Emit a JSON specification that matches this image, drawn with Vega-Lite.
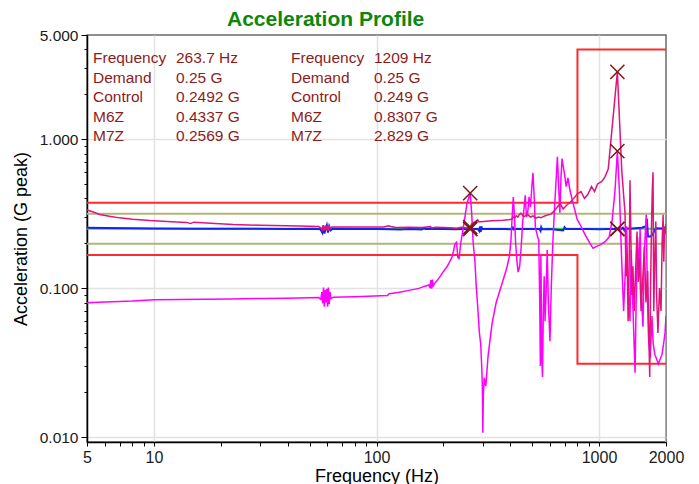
{
  "$schema": "https://vega.github.io/schema/vega-lite/v6.json",
  "width": 579,
  "height": 407,
  "autosize": {"type": "none"},
  "padding": {"left": 87, "top": 35, "right": 33, "bottom": 42},
  "background": "white",
  "config": {
    "font": "Liberation Sans",
    "view": {"stroke": "#6a6a6a", "strokeWidth": 1.5}
  },
  "title": {
    "text": "Acceleration Profile",
    "color": "#0b870b",
    "fontSize": 21,
    "fontWeight": "bold",
    "font": "Liberation Sans",
    "anchor": "start",
    "frame": "group",
    "dx": 140,
    "dy": 28,
    "offset": 9,
    "baseline": "alphabetic"
  },
  "datasets": {
    "limits": [
      {"series": "Abort", "edge": "upper", "freq": 5, "g": 0.374},
      {"series": "Abort", "edge": "upper", "freq": 800, "g": 0.374},
      {"series": "Abort", "edge": "upper", "freq": 800, "g": 4.0},
      {"series": "Abort", "edge": "upper", "freq": 2000, "g": 4.0},
      {"series": "Abort", "edge": "lower", "freq": 5, "g": 0.167},
      {"series": "Abort", "edge": "lower", "freq": 800, "g": 0.167},
      {"series": "Abort", "edge": "lower", "freq": 800, "g": 0.031},
      {"series": "Abort", "edge": "lower", "freq": 2000, "g": 0.031},
      {"series": "Alarm", "edge": "upper", "freq": 5, "g": 0.315},
      {"series": "Alarm", "edge": "upper", "freq": 2000, "g": 0.315},
      {"series": "Alarm", "edge": "lower", "freq": 5, "g": 0.1985},
      {"series": "Alarm", "edge": "lower", "freq": 1955, "g": 0.1985},
      {"series": "Alarm", "edge": "lower", "freq": 1985, "g": 0.232},
      {"series": "Alarm", "edge": "lower", "freq": 2000, "g": 0.232},
      {"series": "Alarm", "edge": "lower", "freq": 2000, "g": 0.00926}
    ],
    "curves": [
      {"series": "Demand", "freq": 5, "g": 0.25},
      {"series": "Demand", "freq": 2000, "g": 0.25},

      {"series": "Control", "freq": 5, "g": 0.254},
      {"series": "Control", "freq": 6, "g": 0.253},
      {"series": "Control", "freq": 8, "g": 0.252},
      {"series": "Control", "freq": 10, "g": 0.251},
      {"series": "Control", "freq": 15, "g": 0.2505},
      {"series": "Control", "freq": 25, "g": 0.25},
      {"series": "Control", "freq": 40, "g": 0.2495},
      {"series": "Control", "freq": 52, "g": 0.25},
      {"series": "Control", "freq": 56, "g": 0.248},
      {"series": "Control", "freq": 57, "g": 0.236},
      {"series": "Control", "freq": 57.5, "g": 0.262},
      {"series": "Control", "freq": 58.3, "g": 0.232},
      {"series": "Control", "freq": 59, "g": 0.25},
      {"series": "Control", "freq": 59.8, "g": 0.264},
      {"series": "Control", "freq": 60.5, "g": 0.236},
      {"series": "Control", "freq": 61.3, "g": 0.26},
      {"series": "Control", "freq": 62.2, "g": 0.244},
      {"series": "Control", "freq": 63.5, "g": 0.25},
      {"series": "Control", "freq": 80, "g": 0.2495},
      {"series": "Control", "freq": 100, "g": 0.2492},
      {"series": "Control", "freq": 115, "g": 0.2485},
      {"series": "Control", "freq": 128, "g": 0.2475},
      {"series": "Control", "freq": 140, "g": 0.2492},
      {"series": "Control", "freq": 160, "g": 0.2478},
      {"series": "Control", "freq": 163, "g": 0.2525},
      {"series": "Control", "freq": 166, "g": 0.2488},
      {"series": "Control", "freq": 200, "g": 0.2495},
      {"series": "Control", "freq": 225, "g": 0.2484},
      {"series": "Control", "freq": 245, "g": 0.2493},
      {"series": "Control", "freq": 263.7, "g": 0.2492},
      {"series": "Control", "freq": 285, "g": 0.2495},
      {"series": "Control", "freq": 290, "g": 0.241},
      {"series": "Control", "freq": 292, "g": 0.259},
      {"series": "Control", "freq": 294, "g": 0.238},
      {"series": "Control", "freq": 296, "g": 0.26},
      {"series": "Control", "freq": 298, "g": 0.2495},
      {"series": "Control", "freq": 340, "g": 0.2492},
      {"series": "Control", "freq": 380, "g": 0.2488},
      {"series": "Control", "freq": 405, "g": 0.2485},
      {"series": "Control", "freq": 410, "g": 0.255},
      {"series": "Control", "freq": 414, "g": 0.2475},
      {"series": "Control", "freq": 420, "g": 0.2495},
      {"series": "Control", "freq": 480, "g": 0.2492},
      {"series": "Control", "freq": 540, "g": 0.249},
      {"series": "Control", "freq": 546, "g": 0.242},
      {"series": "Control", "freq": 550, "g": 0.256},
      {"series": "Control", "freq": 555, "g": 0.2485},
      {"series": "Control", "freq": 600, "g": 0.2495},
      {"series": "Control", "freq": 690, "g": 0.244},
      {"series": "Control", "freq": 700, "g": 0.256},
      {"series": "Control", "freq": 710, "g": 0.249},
      {"series": "Control", "freq": 800, "g": 0.249},
      {"series": "Control", "freq": 900, "g": 0.2493},
      {"series": "Control", "freq": 1000, "g": 0.2485},
      {"series": "Control", "freq": 1100, "g": 0.249},
      {"series": "Control", "freq": 1209, "g": 0.249},
      {"series": "Control", "freq": 1250, "g": 0.248},
      {"series": "Control", "freq": 1280, "g": 0.254},
      {"series": "Control", "freq": 1300, "g": 0.244},
      {"series": "Control", "freq": 1320, "g": 0.252},
      {"series": "Control", "freq": 1380, "g": 0.25},
      {"series": "Control", "freq": 1450, "g": 0.252},
      {"series": "Control", "freq": 1560, "g": 0.254},
      {"series": "Control", "freq": 1600, "g": 0.258},
      {"series": "Control", "freq": 1630, "g": 0.262},
      {"series": "Control", "freq": 1641, "g": 0.292},
      {"series": "Control", "freq": 1650, "g": 0.255},
      {"series": "Control", "freq": 1660, "g": 0.222},
      {"series": "Control", "freq": 1700, "g": 0.222},
      {"series": "Control", "freq": 1740, "g": 0.228},
      {"series": "Control", "freq": 1780, "g": 0.245},
      {"series": "Control", "freq": 1800, "g": 0.252},
      {"series": "Control", "freq": 1900, "g": 0.251},
      {"series": "Control", "freq": 1960, "g": 0.252},
      {"series": "Control", "freq": 2000, "g": 0.25},

      {"series": "M6Z", "freq": 5, "g": 0.0798},
      {"series": "M6Z", "freq": 6, "g": 0.0805},
      {"series": "M6Z", "freq": 7, "g": 0.0812},
      {"series": "M6Z", "freq": 8, "g": 0.0818},
      {"series": "M6Z", "freq": 10, "g": 0.0835},
      {"series": "M6Z", "freq": 13, "g": 0.0838},
      {"series": "M6Z", "freq": 17, "g": 0.0842},
      {"series": "M6Z", "freq": 22, "g": 0.0846},
      {"series": "M6Z", "freq": 30, "g": 0.0852},
      {"series": "M6Z", "freq": 40, "g": 0.0856},
      {"series": "M6Z", "freq": 50, "g": 0.086},
      {"series": "M6Z", "freq": 55, "g": 0.0863},
      {"series": "M6Z", "freq": 56.2, "g": 0.084},
      {"series": "M6Z", "freq": 56.8, "g": 0.094},
      {"series": "M6Z", "freq": 57.3, "g": 0.079},
      {"series": "M6Z", "freq": 57.8, "g": 0.101},
      {"series": "M6Z", "freq": 58.3, "g": 0.075},
      {"series": "M6Z", "freq": 58.8, "g": 0.097},
      {"series": "M6Z", "freq": 59.3, "g": 0.08},
      {"series": "M6Z", "freq": 59.8, "g": 0.099},
      {"series": "M6Z", "freq": 60.3, "g": 0.075},
      {"series": "M6Z", "freq": 60.8, "g": 0.101},
      {"series": "M6Z", "freq": 61.3, "g": 0.078},
      {"series": "M6Z", "freq": 61.8, "g": 0.094},
      {"series": "M6Z", "freq": 62.5, "g": 0.085},
      {"series": "M6Z", "freq": 64, "g": 0.0868},
      {"series": "M6Z", "freq": 70, "g": 0.087},
      {"series": "M6Z", "freq": 80, "g": 0.0875},
      {"series": "M6Z", "freq": 98, "g": 0.0885},
      {"series": "M6Z", "freq": 105, "g": 0.0888},
      {"series": "M6Z", "freq": 112, "g": 0.089},
      {"series": "M6Z", "freq": 114, "g": 0.0915},
      {"series": "M6Z", "freq": 125, "g": 0.0935},
      {"series": "M6Z", "freq": 140, "g": 0.0965},
      {"series": "M6Z", "freq": 155, "g": 0.0995},
      {"series": "M6Z", "freq": 165, "g": 0.103},
      {"series": "M6Z", "freq": 172, "g": 0.105},
      {"series": "M6Z", "freq": 174, "g": 0.1},
      {"series": "M6Z", "freq": 175.5, "g": 0.113},
      {"series": "M6Z", "freq": 177, "g": 0.099},
      {"series": "M6Z", "freq": 178.5, "g": 0.114},
      {"series": "M6Z", "freq": 180, "g": 0.104},
      {"series": "M6Z", "freq": 183, "g": 0.108},
      {"series": "M6Z", "freq": 192, "g": 0.118},
      {"series": "M6Z", "freq": 199, "g": 0.128},
      {"series": "M6Z", "freq": 208, "g": 0.14},
      {"series": "M6Z", "freq": 214, "g": 0.152},
      {"series": "M6Z", "freq": 218, "g": 0.16},
      {"series": "M6Z", "freq": 222, "g": 0.178},
      {"series": "M6Z", "freq": 225, "g": 0.197},
      {"series": "M6Z", "freq": 229, "g": 0.203},
      {"series": "M6Z", "freq": 232, "g": 0.16},
      {"series": "M6Z", "freq": 235, "g": 0.158},
      {"series": "M6Z", "freq": 239, "g": 0.2},
      {"series": "M6Z", "freq": 243, "g": 0.232},
      {"series": "M6Z", "freq": 248, "g": 0.28},
      {"series": "M6Z", "freq": 255, "g": 0.37},
      {"series": "M6Z", "freq": 263.7, "g": 0.4337},
      {"series": "M6Z", "freq": 268, "g": 0.31},
      {"series": "M6Z", "freq": 272, "g": 0.2},
      {"series": "M6Z", "freq": 277, "g": 0.15},
      {"series": "M6Z", "freq": 281, "g": 0.1},
      {"series": "M6Z", "freq": 285, "g": 0.075},
      {"series": "M6Z", "freq": 290, "g": 0.05},
      {"series": "M6Z", "freq": 294, "g": 0.042},
      {"series": "M6Z", "freq": 297, "g": 0.03},
      {"series": "M6Z", "freq": 299, "g": 0.022},
      {"series": "M6Z", "freq": 300.5, "g": 0.0107},
      {"series": "M6Z", "freq": 302, "g": 0.019},
      {"series": "M6Z", "freq": 305, "g": 0.025},
      {"series": "M6Z", "freq": 310, "g": 0.022},
      {"series": "M6Z", "freq": 317, "g": 0.0345},
      {"series": "M6Z", "freq": 325, "g": 0.047},
      {"series": "M6Z", "freq": 331, "g": 0.0584},
      {"series": "M6Z", "freq": 345, "g": 0.08},
      {"series": "M6Z", "freq": 359, "g": 0.0971},
      {"series": "M6Z", "freq": 372, "g": 0.115},
      {"series": "M6Z", "freq": 386, "g": 0.1386},
      {"series": "M6Z", "freq": 396, "g": 0.165},
      {"series": "M6Z", "freq": 402, "g": 0.21},
      {"series": "M6Z", "freq": 407, "g": 0.3},
      {"series": "M6Z", "freq": 412, "g": 0.409},
      {"series": "M6Z", "freq": 417, "g": 0.3},
      {"series": "M6Z", "freq": 422, "g": 0.2},
      {"series": "M6Z", "freq": 428, "g": 0.15},
      {"series": "M6Z", "freq": 433, "g": 0.128},
      {"series": "M6Z", "freq": 440, "g": 0.14},
      {"series": "M6Z", "freq": 447, "g": 0.19},
      {"series": "M6Z", "freq": 454, "g": 0.28},
      {"series": "M6Z", "freq": 460, "g": 0.34},
      {"series": "M6Z", "freq": 466, "g": 0.42},
      {"series": "M6Z", "freq": 472, "g": 0.3},
      {"series": "M6Z", "freq": 478, "g": 0.32},
      {"series": "M6Z", "freq": 485, "g": 0.41},
      {"series": "M6Z", "freq": 492, "g": 0.35},
      {"series": "M6Z", "freq": 500, "g": 0.5},
      {"series": "M6Z", "freq": 505, "g": 0.593},
      {"series": "M6Z", "freq": 512, "g": 0.39},
      {"series": "M6Z", "freq": 518, "g": 0.25},
      {"series": "M6Z", "freq": 524, "g": 0.238},
      {"series": "M6Z", "freq": 530, "g": 0.22},
      {"series": "M6Z", "freq": 536, "g": 0.21},
      {"series": "M6Z", "freq": 541, "g": 0.09},
      {"series": "M6Z", "freq": 545, "g": 0.03},
      {"series": "M6Z", "freq": 548, "g": 0.17},
      {"series": "M6Z", "freq": 553, "g": 0.035},
      {"series": "M6Z", "freq": 557, "g": 0.0253},
      {"series": "M6Z", "freq": 562, "g": 0.07},
      {"series": "M6Z", "freq": 567, "g": 0.12},
      {"series": "M6Z", "freq": 572, "g": 0.06},
      {"series": "M6Z", "freq": 578, "g": 0.09},
      {"series": "M6Z", "freq": 585, "g": 0.18},
      {"series": "M6Z", "freq": 592, "g": 0.08},
      {"series": "M6Z", "freq": 602, "g": 0.044},
      {"series": "M6Z", "freq": 610, "g": 0.1},
      {"series": "M6Z", "freq": 620, "g": 0.2},
      {"series": "M6Z", "freq": 630, "g": 0.33},
      {"series": "M6Z", "freq": 640, "g": 0.5},
      {"series": "M6Z", "freq": 650, "g": 0.76},
      {"series": "M6Z", "freq": 660, "g": 0.45},
      {"series": "M6Z", "freq": 667, "g": 0.32},
      {"series": "M6Z", "freq": 675, "g": 0.56},
      {"series": "M6Z", "freq": 682, "g": 0.74},
      {"series": "M6Z", "freq": 690, "g": 0.66},
      {"series": "M6Z", "freq": 700, "g": 0.58},
      {"series": "M6Z", "freq": 712, "g": 0.48},
      {"series": "M6Z", "freq": 725, "g": 0.55},
      {"series": "M6Z", "freq": 741, "g": 0.45},
      {"series": "M6Z", "freq": 765, "g": 0.37},
      {"series": "M6Z", "freq": 797, "g": 0.29},
      {"series": "M6Z", "freq": 830, "g": 0.26},
      {"series": "M6Z", "freq": 870, "g": 0.225},
      {"series": "M6Z", "freq": 910, "g": 0.2},
      {"series": "M6Z", "freq": 940, "g": 0.185},
      {"series": "M6Z", "freq": 970, "g": 0.19},
      {"series": "M6Z", "freq": 1010, "g": 0.195},
      {"series": "M6Z", "freq": 1065, "g": 0.205},
      {"series": "M6Z", "freq": 1110, "g": 0.22},
      {"series": "M6Z", "freq": 1144, "g": 0.28},
      {"series": "M6Z", "freq": 1180, "g": 0.45},
      {"series": "M6Z", "freq": 1209, "g": 0.8307},
      {"series": "M6Z", "freq": 1235, "g": 0.45},
      {"series": "M6Z", "freq": 1250, "g": 0.25},
      {"series": "M6Z", "freq": 1265, "g": 0.15},
      {"series": "M6Z", "freq": 1290, "g": 0.07},
      {"series": "M6Z", "freq": 1310, "g": 0.12},
      {"series": "M6Z", "freq": 1330, "g": 0.26},
      {"series": "M6Z", "freq": 1350, "g": 0.11},
      {"series": "M6Z", "freq": 1378, "g": 0.06},
      {"series": "M6Z", "freq": 1395, "g": 0.18},
      {"series": "M6Z", "freq": 1418, "g": 0.08},
      {"series": "M6Z", "freq": 1452, "g": 0.027},
      {"series": "M6Z", "freq": 1470, "g": 0.09},
      {"series": "M6Z", "freq": 1490, "g": 0.22},
      {"series": "M6Z", "freq": 1510, "g": 0.12},
      {"series": "M6Z", "freq": 1530, "g": 0.25},
      {"series": "M6Z", "freq": 1550, "g": 0.09},
      {"series": "M6Z", "freq": 1576, "g": 0.055},
      {"series": "M6Z", "freq": 1600, "g": 0.18},
      {"series": "M6Z", "freq": 1630, "g": 0.31},
      {"series": "M6Z", "freq": 1650, "g": 0.09},
      {"series": "M6Z", "freq": 1670, "g": 0.045},
      {"series": "M6Z", "freq": 1700, "g": 0.034},
      {"series": "M6Z", "freq": 1730, "g": 0.065},
      {"series": "M6Z", "freq": 1750, "g": 0.043},
      {"series": "M6Z", "freq": 1780, "g": 0.036},
      {"series": "M6Z", "freq": 1820, "g": 0.033},
      {"series": "M6Z", "freq": 1850, "g": 0.031},
      {"series": "M6Z", "freq": 1880, "g": 0.033},
      {"series": "M6Z", "freq": 1920, "g": 0.036},
      {"series": "M6Z", "freq": 1950, "g": 0.042},
      {"series": "M6Z", "freq": 1980, "g": 0.05},
      {"series": "M6Z", "freq": 2000, "g": 0.065},

      {"series": "M7Z", "freq": 5, "g": 0.334},
      {"series": "M7Z", "freq": 5.3, "g": 0.325},
      {"series": "M7Z", "freq": 5.7, "g": 0.312},
      {"series": "M7Z", "freq": 6.3, "g": 0.303},
      {"series": "M7Z", "freq": 7, "g": 0.296},
      {"series": "M7Z", "freq": 8, "g": 0.29},
      {"series": "M7Z", "freq": 9.6, "g": 0.284},
      {"series": "M7Z", "freq": 12, "g": 0.279},
      {"series": "M7Z", "freq": 14, "g": 0.276},
      {"series": "M7Z", "freq": 14.6, "g": 0.271},
      {"series": "M7Z", "freq": 15.1, "g": 0.277},
      {"series": "M7Z", "freq": 18, "g": 0.272},
      {"series": "M7Z", "freq": 22.7, "g": 0.267},
      {"series": "M7Z", "freq": 30, "g": 0.264},
      {"series": "M7Z", "freq": 45, "g": 0.261},
      {"series": "M7Z", "freq": 55, "g": 0.259},
      {"series": "M7Z", "freq": 56.5, "g": 0.252},
      {"series": "M7Z", "freq": 57, "g": 0.245},
      {"series": "M7Z", "freq": 57.6, "g": 0.265},
      {"series": "M7Z", "freq": 58.2, "g": 0.243},
      {"series": "M7Z", "freq": 58.8, "g": 0.262},
      {"series": "M7Z", "freq": 59.4, "g": 0.247},
      {"series": "M7Z", "freq": 60, "g": 0.263},
      {"series": "M7Z", "freq": 60.6, "g": 0.243},
      {"series": "M7Z", "freq": 61.2, "g": 0.262},
      {"series": "M7Z", "freq": 61.8, "g": 0.25},
      {"series": "M7Z", "freq": 63, "g": 0.257},
      {"series": "M7Z", "freq": 76, "g": 0.2575},
      {"series": "M7Z", "freq": 98, "g": 0.257},
      {"series": "M7Z", "freq": 108, "g": 0.2575},
      {"series": "M7Z", "freq": 113, "g": 0.262},
      {"series": "M7Z", "freq": 116, "g": 0.259},
      {"series": "M7Z", "freq": 122, "g": 0.2555},
      {"series": "M7Z", "freq": 140, "g": 0.2565},
      {"series": "M7Z", "freq": 160, "g": 0.2555},
      {"series": "M7Z", "freq": 175, "g": 0.2585},
      {"series": "M7Z", "freq": 177, "g": 0.2535},
      {"series": "M7Z", "freq": 185, "g": 0.256},
      {"series": "M7Z", "freq": 200, "g": 0.255},
      {"series": "M7Z", "freq": 215, "g": 0.254},
      {"series": "M7Z", "freq": 230, "g": 0.2525},
      {"series": "M7Z", "freq": 240, "g": 0.256},
      {"series": "M7Z", "freq": 250, "g": 0.2545},
      {"series": "M7Z", "freq": 258, "g": 0.253},
      {"series": "M7Z", "freq": 263.7, "g": 0.2569},
      {"series": "M7Z", "freq": 268, "g": 0.27},
      {"series": "M7Z", "freq": 273, "g": 0.276},
      {"series": "M7Z", "freq": 280, "g": 0.278},
      {"series": "M7Z", "freq": 285, "g": 0.287},
      {"series": "M7Z", "freq": 288, "g": 0.279},
      {"series": "M7Z", "freq": 295, "g": 0.279},
      {"series": "M7Z", "freq": 310, "g": 0.281},
      {"series": "M7Z", "freq": 330, "g": 0.283},
      {"series": "M7Z", "freq": 350, "g": 0.284},
      {"series": "M7Z", "freq": 370, "g": 0.285},
      {"series": "M7Z", "freq": 390, "g": 0.287},
      {"series": "M7Z", "freq": 405, "g": 0.29},
      {"series": "M7Z", "freq": 412, "g": 0.3},
      {"series": "M7Z", "freq": 418, "g": 0.296},
      {"series": "M7Z", "freq": 425, "g": 0.306},
      {"series": "M7Z", "freq": 432, "g": 0.3},
      {"series": "M7Z", "freq": 438, "g": 0.311},
      {"series": "M7Z", "freq": 445, "g": 0.318},
      {"series": "M7Z", "freq": 452, "g": 0.31},
      {"series": "M7Z", "freq": 460, "g": 0.302},
      {"series": "M7Z", "freq": 470, "g": 0.307},
      {"series": "M7Z", "freq": 480, "g": 0.31},
      {"series": "M7Z", "freq": 492, "g": 0.3},
      {"series": "M7Z", "freq": 505, "g": 0.305},
      {"series": "M7Z", "freq": 520, "g": 0.295},
      {"series": "M7Z", "freq": 535, "g": 0.3},
      {"series": "M7Z", "freq": 550, "g": 0.297},
      {"series": "M7Z", "freq": 570, "g": 0.305},
      {"series": "M7Z", "freq": 590, "g": 0.31},
      {"series": "M7Z", "freq": 610, "g": 0.315},
      {"series": "M7Z", "freq": 630, "g": 0.33},
      {"series": "M7Z", "freq": 650, "g": 0.35},
      {"series": "M7Z", "freq": 668, "g": 0.37},
      {"series": "M7Z", "freq": 690, "g": 0.34},
      {"series": "M7Z", "freq": 715, "g": 0.36},
      {"series": "M7Z", "freq": 741, "g": 0.375},
      {"series": "M7Z", "freq": 770, "g": 0.4},
      {"series": "M7Z", "freq": 800, "g": 0.43},
      {"series": "M7Z", "freq": 830, "g": 0.445},
      {"series": "M7Z", "freq": 860, "g": 0.4},
      {"series": "M7Z", "freq": 890, "g": 0.425},
      {"series": "M7Z", "freq": 925, "g": 0.48},
      {"series": "M7Z", "freq": 955, "g": 0.445},
      {"series": "M7Z", "freq": 985, "g": 0.5},
      {"series": "M7Z", "freq": 1030, "g": 0.52},
      {"series": "M7Z", "freq": 1065, "g": 0.56},
      {"series": "M7Z", "freq": 1100, "g": 0.63},
      {"series": "M7Z", "freq": 1209, "g": 2.829},
      {"series": "M7Z", "freq": 1265, "g": 0.62},
      {"series": "M7Z", "freq": 1290, "g": 0.42},
      {"series": "M7Z", "freq": 1309, "g": 0.32},
      {"series": "M7Z", "freq": 1322, "g": 0.12},
      {"series": "M7Z", "freq": 1337, "g": 0.17},
      {"series": "M7Z", "freq": 1351, "g": 0.06},
      {"series": "M7Z", "freq": 1365, "g": 0.13},
      {"series": "M7Z", "freq": 1378, "g": 0.53},
      {"series": "M7Z", "freq": 1392, "g": 0.2},
      {"series": "M7Z", "freq": 1405, "g": 0.09},
      {"series": "M7Z", "freq": 1420, "g": 0.14},
      {"series": "M7Z", "freq": 1440, "g": 0.07},
      {"series": "M7Z", "freq": 1460, "g": 0.13},
      {"series": "M7Z", "freq": 1482, "g": 0.24},
      {"series": "M7Z", "freq": 1500, "g": 0.11},
      {"series": "M7Z", "freq": 1520, "g": 0.16},
      {"series": "M7Z", "freq": 1545, "g": 0.07},
      {"series": "M7Z", "freq": 1570, "g": 0.11},
      {"series": "M7Z", "freq": 1600, "g": 0.19},
      {"series": "M7Z", "freq": 1625, "g": 0.08},
      {"series": "M7Z", "freq": 1655, "g": 0.13},
      {"series": "M7Z", "freq": 1670, "g": 0.06},
      {"series": "M7Z", "freq": 1690, "g": 0.0253},
      {"series": "M7Z", "freq": 1705, "g": 0.1},
      {"series": "M7Z", "freq": 1720, "g": 0.25},
      {"series": "M7Z", "freq": 1735, "g": 0.45},
      {"series": "M7Z", "freq": 1749, "g": 0.6},
      {"series": "M7Z", "freq": 1762, "g": 0.07},
      {"series": "M7Z", "freq": 1780, "g": 0.15},
      {"series": "M7Z", "freq": 1800, "g": 0.28},
      {"series": "M7Z", "freq": 1815, "g": 0.09},
      {"series": "M7Z", "freq": 1840, "g": 0.05},
      {"series": "M7Z", "freq": 1870, "g": 0.1},
      {"series": "M7Z", "freq": 1900, "g": 0.07},
      {"series": "M7Z", "freq": 1921, "g": 0.2},
      {"series": "M7Z", "freq": 1941, "g": 0.31},
      {"series": "M7Z", "freq": 1955, "g": 0.15},
      {"series": "M7Z", "freq": 1970, "g": 0.26},
      {"series": "M7Z", "freq": 1985, "g": 0.23},
      {"series": "M7Z", "freq": 2000, "g": 0.27}
    ],
    "readout": [
      {"cursor": "A", "freq": 263.7, "item": "Frequency", "reading": "263.7 Hz"},
      {"cursor": "A", "freq": 263.7, "item": "Demand", "g": 0.25, "reading": "0.25 G"},
      {"cursor": "A", "freq": 263.7, "item": "Control", "g": 0.2492, "reading": "0.2492 G"},
      {"cursor": "A", "freq": 263.7, "item": "M6Z", "g": 0.4337, "reading": "0.4337 G"},
      {"cursor": "A", "freq": 263.7, "item": "M7Z", "g": 0.2569, "reading": "0.2569 G"},
      {"cursor": "B", "freq": 1209, "item": "Frequency", "reading": "1209 Hz"},
      {"cursor": "B", "freq": 1209, "item": "Demand", "g": 0.25, "reading": "0.25 G"},
      {"cursor": "B", "freq": 1209, "item": "Control", "g": 0.249, "reading": "0.249 G"},
      {"cursor": "B", "freq": 1209, "item": "M6Z", "g": 0.8307, "reading": "0.8307 G"},
      {"cursor": "B", "freq": 1209, "item": "M7Z", "g": 2.829, "reading": "2.829 G"}
    ]
  },
  "layer": [
    {
      "encoding": {
        "x": {
          "field": "freq",
          "type": "quantitative",
          "scale": {"type": "log", "domain": [5, 2000], "nice": false},
          "axis": {
            "values": [5, 6, 7, 8, 9, 10, 20, 30, 40, 50, 60, 70, 80, 90, 100, 200, 300, 400, 500, 600, 700, 800, 900, 1000, 2000],
            "labelExpr": "(datum.value == 5 || datum.value == 10 || datum.value == 100 || datum.value == 1000 || datum.value == 2000) ? format(datum.value, 'd') : ''",
            "labelOverlap": false,
            "labelFlush": false,
            "labelFontSize": 16,
            "labelColor": "#1a1a1a",
            "labelPadding": 3,
            "tickSize": 4,
            "tickColor": "#000000",
            "domainColor": "#000000",
            "domainWidth": 1.5,
            "grid": true,
            "gridColor": "#e2e2e2",
            "gridWidth": 1.5,
            "gridOpacity": {"condition": {"test": "datum.value == 10 || datum.value == 100 || datum.value == 1000", "value": 1}, "value": 0},
            "title": "Frequency (Hz)",
            "titleFontSize": 18,
            "titleFontWeight": "normal",
            "titleColor": "#000000",
            "titlePadding": 2
          }
        },
        "y": {
          "field": "g",
          "type": "quantitative",
          "scale": {"type": "log", "domain": [0.00926, 5], "nice": false},
          "axis": {
            "values": [0.01, 0.02, 0.03, 0.04, 0.05, 0.06, 0.07, 0.08, 0.09, 0.1, 0.2, 0.3, 0.4, 0.5, 0.6, 0.7, 0.8, 0.9, 1, 2, 3, 4, 5],
            "labelExpr": "(datum.value == 0.01 || datum.value == 0.1 || datum.value == 1 || datum.value == 5) ? format(datum.value, '.3f') : ''",
            "labelOverlap": false,
            "labelFlush": false,
            "labelFontSize": 15.5,
            "labelColor": "#1a1a1a",
            "labelPadding": 3,
            "tickSize": {"condition": {"test": "datum.value == 0.01 || datum.value == 0.1 || datum.value == 1 || datum.value == 5", "value": 6}, "value": 3},
            "tickColor": "#000000",
            "domainColor": "#000000",
            "domainWidth": 1.5,
            "grid": true,
            "gridColor": "#e2e2e2",
            "gridWidth": 1.5,
            "gridOpacity": {"condition": {"test": "datum.value == 0.01 || datum.value == 0.1 || datum.value == 1", "value": 1}, "value": 0},
            "title": "Acceleration (G peak)",
            "titleFontSize": 18,
            "titleFontWeight": "normal",
            "titleColor": "#000000",
            "titlePadding": 9
          }
        }
      },
      "layer": [
        {
          "data": {"name": "limits"},
          "transform": [{"filter": "datum.series == 'Alarm'"}],
          "mark": {"type": "line", "color": "#b3b37a", "strokeWidth": 2, "clip": true},
          "encoding": {"detail": {"field": "edge"}, "order": {"value": null}}
        },
        {
          "data": {"name": "limits"},
          "transform": [{"filter": "datum.series == 'Abort'"}],
          "mark": {"type": "line", "color": "#ff2a2a", "strokeWidth": 2, "clip": true},
          "encoding": {"detail": {"field": "edge"}, "order": {"value": null}}
        },
        {
          "data": {"name": "curves"},
          "transform": [{"filter": "datum.series == 'Demand'"}],
          "mark": {"type": "line", "color": "#3fe23f", "strokeWidth": 2, "clip": true},
          "encoding": {}
        },
        {
          "data": {"name": "curves"},
          "transform": [{"filter": "datum.series == 'Control'"}],
          "mark": {"type": "line", "color": "#1024f2", "strokeWidth": 2, "clip": true},
          "encoding": {}
        },
        {
          "data": {"name": "curves"},
          "transform": [{"filter": "datum.series == 'M6Z'"}],
          "mark": {"type": "line", "color": "#ff00ff", "strokeWidth": 1.5, "clip": true},
          "encoding": {}
        },
        {
          "data": {"name": "curves"},
          "transform": [{"filter": "datum.series == 'M7Z'"}],
          "mark": {"type": "line", "color": "#e0147c", "strokeWidth": 1.5, "clip": true},
          "encoding": {}
        },
        {
          "data": {"name": "readout"},
          "transform": [{"filter": "isValid(datum.g)"}],
          "mark": {
            "type": "point",
            "shape": "M-1,-1L1,1M-1,1L1,-1",
            "filled": false,
            "color": "#7b1818",
            "strokeWidth": 1.5,
            "size": 200,
            "opacity": 1
          },
          "encoding": {}
        }
      ]
    },
    {
      "data": {"name": "readout"},
      "encoding": {
        "x": {
          "field": "cursor",
          "type": "nominal",
          "scale": {"type": "point", "domain": ["A", "B"], "range": [6, 204], "padding": 0},
          "axis": null
        },
        "y": {
          "field": "item",
          "type": "nominal",
          "scale": {"type": "point", "domain": ["Frequency", "Demand", "Control", "M6Z", "M7Z"], "range": [28, 106], "padding": 0},
          "axis": null
        }
      },
      "layer": [
        {
          "mark": {"type": "text", "align": "left", "baseline": "alphabetic", "fontSize": 15.5, "color": "#8c1c1c", "font": "Liberation Sans"},
          "encoding": {"text": {"field": "item"}}
        },
        {
          "mark": {"type": "text", "align": "left", "baseline": "alphabetic", "fontSize": 15.5, "color": "#8c1c1c", "font": "Liberation Sans", "dx": 83},
          "encoding": {"text": {"field": "reading"}}
        }
      ]
    }
  ],
  "resolve": {"scale": {"x": "independent", "y": "independent"}}
}
